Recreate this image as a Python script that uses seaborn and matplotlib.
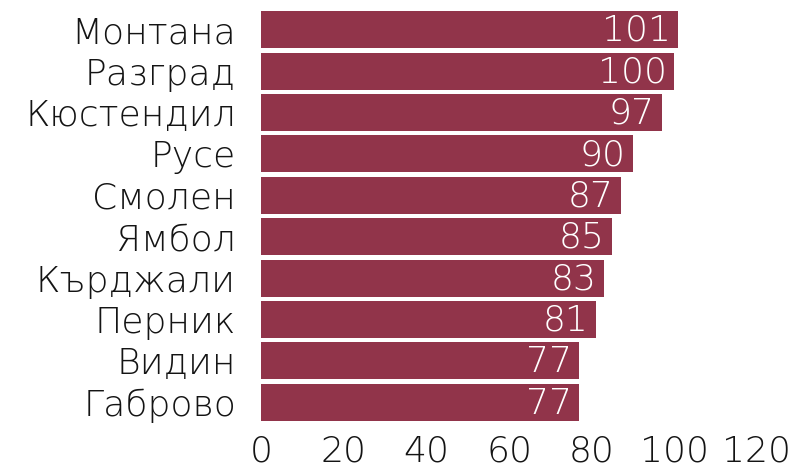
import matplotlib
matplotlib.use("Agg")
import matplotlib.pyplot as plt
import seaborn as sns
import pandas as pd

regions = ["Монтана", "Разград", "Кюстендил", "Русе", "Смолен", "Ямбол",
           "Кърджали", "Перник", "Видин", "Габрово"]
values = [101, 100, 97, 90, 87, 85, 83, 81, 77, 77]
x_ticks = [0, 20, 40, 60, 80, 100, 120]

bar_color = "#91344a"
text_color = "#141414"

sns.set_theme(style="white")
plt.rcParams["font.family"] = ["DejaVu Sans"]

df = pd.DataFrame({"region": regions, "value": values})

W, H = 794, 469
fig = plt.figure(figsize=(W / 100, H / 100), dpi=100)
ax = fig.add_axes([261 / W, 1 - 423 / H, (757 - 261) / W, (423 - 9) / H])

sns.barplot(data=df, y="region", x="value", orient="h", color=bar_color,
            saturation=1, width=0.89, ax=ax, edgecolor="none")

fs = 26
wt = "light"
for i, v in enumerate(values):
    ax.text(v - 1.8, i + 0.03, str(v), ha="right", va="center", color="white",
            fontsize=fs, fontweight=wt)

ax.set_xlim(0, 120)
ax.set_ylim(9.5, -0.5)
ax.set_xticks(x_ticks)
ax.set_xticklabels([str(t) for t in x_ticks], fontsize=fs, color=text_color,
                   fontweight=wt)
ax.set_yticks(range(len(regions)))
ax.set_yticklabels(regions, fontsize=fs, color=text_color, fontweight=wt)
ax.tick_params(axis="y", length=0, pad=18)
ax.tick_params(axis="x", length=0, pad=8)
ax.set_xlabel("")
ax.set_ylabel("")
for s in ax.spines.values():
    s.set_visible(False)

fig.savefig("out.png", dpi=100)
